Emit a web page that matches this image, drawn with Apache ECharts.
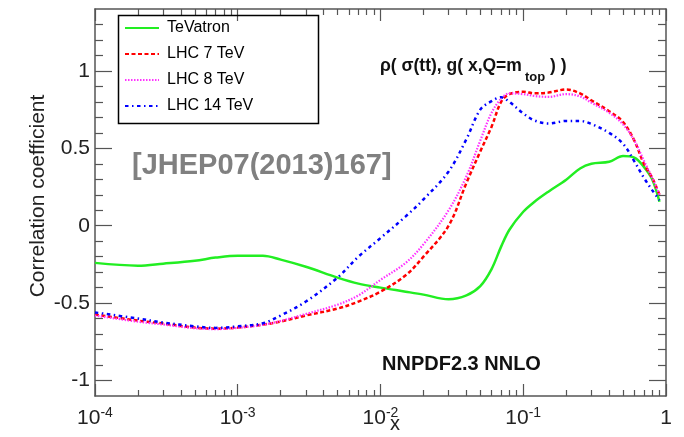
<!DOCTYPE html>
<html><head><meta charset="utf-8">
<script src="https://cdn.jsdelivr.net/npm/echarts@6/dist/echarts.min.js"></script>
<style>html,body{margin:0;padding:0;background:#fff}#c{width:684px;height:437px}</style>
</head><body><div id="c"></div>
<script>
// ---- data ----
const xs = [1e-4, 2e-4, 3e-4, 5e-4, 7e-4, 1e-3, 1.5e-3, 2e-3, 3e-3, 5e-3, 7e-3, 1e-2, 1.5e-2, 2e-2, 3e-2, 4e-2, 5e-2, 6e-2, 7e-2, 8e-2, 0.1, 0.12, 0.15, 0.2, 0.25, 0.3, 0.4, 0.5, 0.6, 0.7, 0.8, 0.9];
const tevatron = [-0.24, -0.258, -0.245, -0.226, -0.206, -0.194, -0.194, -0.219, -0.265, -0.335, -0.374, -0.40, -0.426, -0.445, -0.475, -0.45, -0.39, -0.28, -0.135, -0.026, 0.09, 0.155, 0.22, 0.297, 0.37, 0.40, 0.413, 0.45, 0.44, 0.38, 0.30, 0.155];
const lhc7 = [-0.574, -0.613, -0.632, -0.658, -0.665, -0.658, -0.639, -0.619, -0.58, -0.535, -0.49, -0.426, -0.32, -0.2, 0.0, 0.277, 0.48, 0.64, 0.80, 0.85, 0.865, 0.855, 0.86, 0.88, 0.855, 0.81, 0.74, 0.67, 0.55, 0.40, 0.31, 0.2];
const lhc8 = [-0.58, -0.62, -0.638, -0.662, -0.668, -0.66, -0.64, -0.615, -0.57, -0.51, -0.45, -0.35, -0.24, -0.12, 0.10, 0.32, 0.55, 0.73, 0.82, 0.855, 0.85, 0.838, 0.832, 0.85, 0.835, 0.795, 0.73, 0.655, 0.55, 0.42, 0.31, 0.2];
const lhc14 = [-0.56, -0.6, -0.625, -0.65, -0.66, -0.65, -0.63, -0.58, -0.49, -0.335, -0.2, -0.08, 0.06, 0.17, 0.35, 0.56, 0.75, 0.805, 0.83, 0.80, 0.725, 0.68, 0.66, 0.677, 0.677, 0.657, 0.60, 0.53, 0.416, 0.31, 0.23, 0.165];
const seriesNames = ['TeVatron', 'LHC 7 TeV', 'LHC 8 TeV', 'LHC 14 TeV'];
const xMajorTicks = [1e-4, 1e-3, 1e-2, 1e-1, 1];
const xMinorTicks = [];
[1e-4, 1e-3, 1e-2, 1e-1].forEach(d => { for (let k = 2; k <= 9; k++) xMinorTicks.push(+(k * d).toPrecision(3)); });
const yMajorTicks = [-1, -0.5, 0, 0.5, 1];
const yMinorTicks = [-0.9, -0.8, -0.7, -0.6, -0.4, -0.3, -0.2, -0.1, 0.1, 0.2, 0.3, 0.4, 0.6, 0.7, 0.8, 0.9, 1.1, 1.2, 1.3];

const FONT = 'Liberation Sans, Arial, Helvetica, sans-serif';
const AX = '#555';

function pairs(v) { return xs.map((x, i) => [x, v[i]]); }

function xAx(pos, ticks, len, main, showLabel) {
  return {
    type: 'log', logBase: 10, min: 1e-4, max: 1, position: pos,
    axisLine: { show: main, onZero: false, lineStyle: { color: AX, width: 1.5 } },
    axisTick: { show: true, inside: true, length: len, customValues: ticks, lineStyle: { color: AX, width: 1.2 } },
    axisLabel: showLabel ? {
      show: true, customValues: ticks, margin: 10, color: '#222',
      formatter: v => { const e = Math.round(Math.log10(v)); return e === 0 ? '{b|1}' : '{b|10}{s|' + e + '}'; },
      rich: {
        b: { fontSize: 21, fontFamily: FONT, color: '#222', lineHeight: 24 },
        s: { fontSize: 14, fontFamily: FONT, color: '#222', lineHeight: 12, verticalAlign: 'top' }
      }
    } : { show: false },
    splitLine: { show: false }, minorTick: { show: false }
  };
}
function yAx(pos, ticks, len, main, showLabel) {
  return {
    type: 'value', min: -1.1, max: 1.4, position: pos,
    axisLine: { show: main, onZero: false, lineStyle: { color: AX, width: 1.5 } },
    axisTick: { show: true, inside: true, length: len, customValues: ticks, lineStyle: { color: AX, width: 1.2 } },
    axisLabel: showLabel ? { show: true, customValues: ticks, margin: 5, fontSize: 21, fontFamily: FONT, color: '#222' } : { show: false },
    splitLine: { show: false }
  };
}

const styles = [
  { color: '#22ee22', width: 2.5, type: 'solid' },
  { color: '#ff0000', width: 2.5, type: [4, 2.5] },
  { color: '#ff33ff', width: 2.2, type: [1.5, 1.5] },
  { color: '#0000ff', width: 2.5, type: [3.5, 3.5, 1.5, 3.5] }
];
const values = [tevatron, lhc7, lhc8, lhc14];

const chart = echarts.init(document.getElementById('c'), null, { renderer: 'canvas' });
chart.setOption({
  animation: false,
  backgroundColor: '#fff',
  grid: { left: 95, right: 18, top: 9, bottom: 41, containLabel: false },
  xAxis: [
    xAx('bottom', xMajorTicks, 12, true, true),
    xAx('bottom', xMinorTicks, 6, false, false),
    xAx('top', xMajorTicks, 12, true, false),
    xAx('top', xMinorTicks, 6, false, false)
  ],
  yAxis: [
    yAx('left', yMajorTicks, 17, true, true),
    yAx('left', yMinorTicks, 8, false, false),
    yAx('right', yMajorTicks, 17, true, false),
    yAx('right', yMinorTicks, 8, false, false)
  ],
  legend: {
    orient: 'vertical', left: 116, top: 13, padding: [7, 8, 7, 8],
    itemWidth: 34, itemHeight: 14, itemGap: 10,
    itemStyle: { opacity: 0 },
    textStyle: { fontSize: 16, fontFamily: FONT, color: '#000', padding: [0, 0, 0, 3] },
    data: seriesNames
  },
  series: seriesNames.map((n, i) => ({
    name: n, type: 'line', xAxisIndex: 0, yAxisIndex: 0,
    data: pairs(values[i]), symbol: 'none', smooth: 0.35,
    lineStyle: styles[i], itemStyle: { color: styles[i].color }, z: 2 + i
  })),
  graphic: [
    { type: 'rect', left: 116, top: 13, shape: { width: 200, height: 108 }, style: { fill: 'none', stroke: '#000', lineWidth: 1.5 }, z: 1 },
    { type: 'text', left: 380, top: 57, style: { text: 'ρ( σ(tt), g( x,Q=m', font: 'bold 17.5px ' + FONT, fill: '#111' } },
    { type: 'text', left: 525, top: 71, style: { text: 'top', font: 'bold 13px ' + FONT, fill: '#111' } },
    { type: 'text', left: 550, top: 57, style: { text: ') )', font: 'bold 17.5px ' + FONT, fill: '#111' } },
    { type: 'text', left: 132, top: 151, style: { text: '[JHEP07(2013)167]', font: 'bold 29px ' + FONT, fill: '#808080' } },
    { type: 'text', left: 382, top: 354, style: { text: 'NNPDF2.3 NNLO', font: 'bold 20px ' + FONT, fill: '#111' } },
    { type: 'text', x: 395, y: 424, style: { text: 'x', font: '20px ' + FONT, fill: '#222', align: 'center', verticalAlign: 'middle' } },
    { type: 'text', x: 38, y: 196, rotation: Math.PI / 2, style: { text: 'Correlation coefficient', font: '21px ' + FONT, fill: '#222', align: 'center', verticalAlign: 'middle' } }
  ]
});
</script></body></html>
